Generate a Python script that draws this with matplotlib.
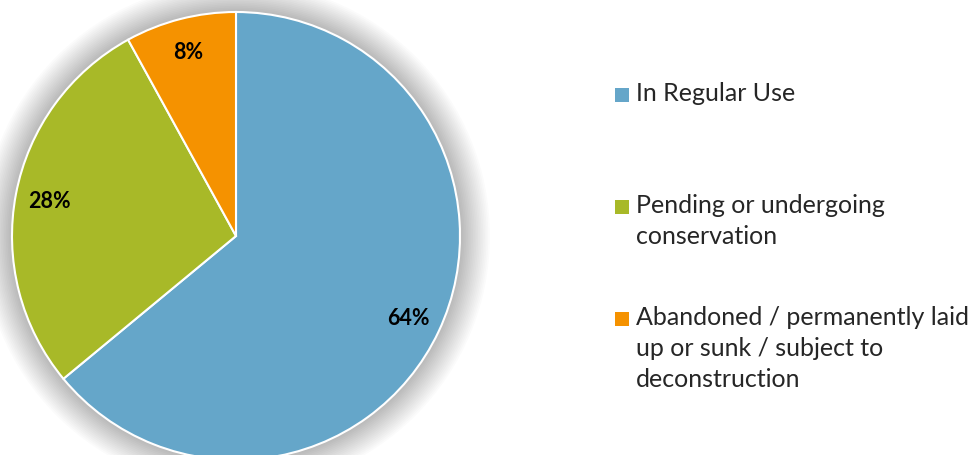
import matplotlib

matplotlib.use("Agg")
import matplotlib.pyplot as plt  # noqa: E402
from matplotlib.patches import Circle, Rectangle  # noqa: E402

# Data.
CATEGORIES = [
    "In Regular Use",
    "Pending or undergoing\nconservation",
    "Abandoned / permanently laid\nup or sunk / subject to\ndeconstruction",
]
SHARES = [64, 28, 8]
COLORS = ["#65A6C9", "#A8B928", "#F59200"]

W, H = 973, 456
CENTER = (236, H - 237)
RADIUS = 224
FONT = ["Lato", "DejaVu Sans"]

fig = plt.figure(figsize=(W / 100, H / 100), dpi=100)
ax = fig.add_axes([0, 0, 1, 1])

# Soft glow behind the pie.
for i in range(18):
    ax.add_patch(Circle(CENTER, RADIUS + 30 - i * 1.7, color="#000000",
                        alpha=0.014, lw=0, zorder=0))

wedges, _, autotexts = ax.pie(
    SHARES,
    colors=COLORS,
    startangle=90,
    counterclock=False,
    center=CENTER,
    radius=RADIUS,
    autopct="%d%%",
    pctdistance=0.85,
    wedgeprops=dict(edgecolor="white", linewidth=1.5),
    textprops=dict(fontsize=15.5, fontweight="bold", family=FONT, color="black"),
    frame=True,
)
ax.set_xlim(0, W)
ax.set_ylim(0, H)
ax.set_aspect("equal")
ax.axis("off")

# Legend drawn by hand so the marker sits beside the first line.
legend_tops = [82, 194, 306]
for label, color, top in zip(CATEGORIES, COLORS, legend_tops):
    ax.add_patch(Rectangle((615, H - top - 21), 14, 14, color=color, lw=0))
    ax.text(636, H - top, label, fontsize=18, family=FONT, color="#262626",
            va="top", ha="left", linespacing=1.43)

fig.savefig("out.png", dpi=100)
